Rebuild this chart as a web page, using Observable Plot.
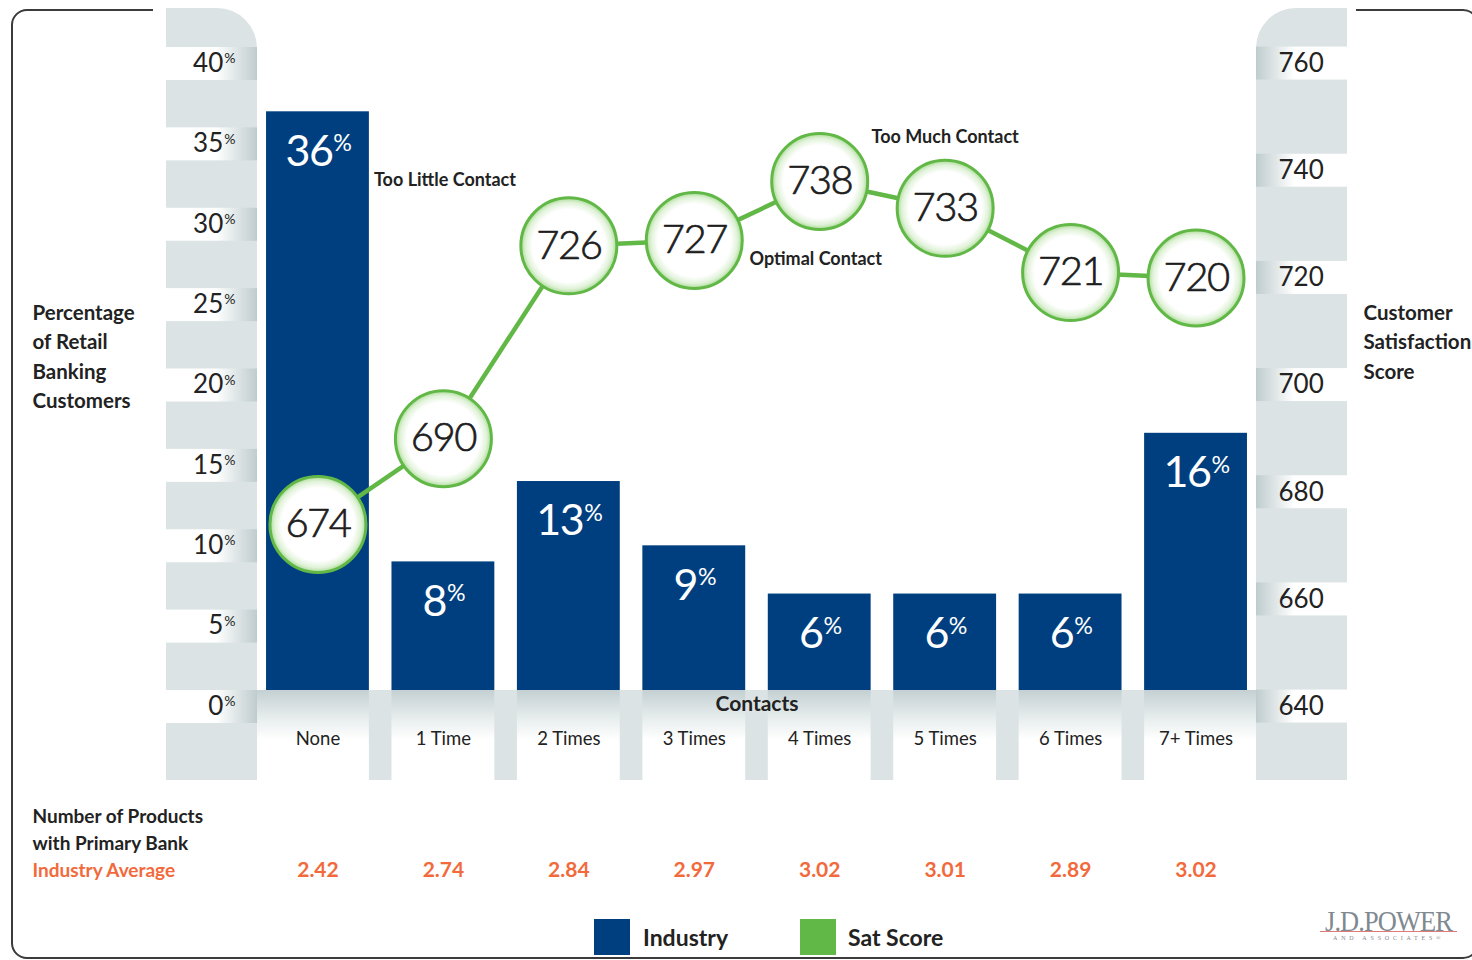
<!DOCTYPE html>
<html>
<head>
<meta charset="utf-8">
<script src="https://cdn.jsdelivr.net/npm/d3@7"></script>
<script src="https://cdn.jsdelivr.net/npm/@observablehq/plot@0.6"></script>
<style>
  html, body { margin: 0; padding: 0; background: #fff; }
  #wrap { position: relative; width: 1472px; height: 960px; overflow: hidden; font-family: Lato, "Open Sans", sans-serif; color: #222; }
  #border { position: absolute; left: 11px; top: 9px; width: 1468px; height: 950px; box-sizing: border-box; border: 2px solid #3b3b3b; border-radius: 16px; z-index: 1; }
  #mask { position: absolute; left: 153px; top: 5px; width: 1203px; height: 10px; background: #fff; z-index: 2; }
  #chart { position: relative; z-index: 3; height: 900px; }
  #legend { position: relative; z-index: 3; height: 60px; }
  .sw { position: absolute; top: 19px; width: 36px; height: 36px; }
  .lt { position: absolute; top: 22px; font-weight: bold; font-size: 23px; line-height: 30px; color: #222; }
  #logo { position: absolute; left: 1320px; top: 0; width: 145px; height: 56px; color: #7f898f; }
  #logo .name { position: absolute; left: 5px; top: 6px; font-family: "Liberation Serif", "DejaVu Serif", serif; font-size: 30px; line-height: 30px; letter-spacing: -1px; transform: scaleX(0.88); transform-origin: left top; white-space: nowrap; }
  #logo .rule { position: absolute; left: 0; top: 31px; width: 137px; height: 1px; background: #e07b7b; }
  #logo .sub { position: absolute; left: 13px; top: 35px; font-family: "Liberation Serif", serif; font-size: 6px; line-height: 6px; letter-spacing: 3.8px; white-space: nowrap; }
</style>
</head>
<body>
<div id="wrap">
  <div id="border"></div>
  <div id="mask"></div>
  <div id="chart"></div>
  <div id="legend">
    <div class="sw" style="left:594px;background:#003f7f"></div>
    <div class="lt" style="left:643px">Industry</div>
    <div class="sw" style="left:800px;background:#62b846"></div>
    <div class="lt" style="left:848px">Sat Score</div>
    <div id="logo">
      <div class="name">J.D.POWER</div>
      <div class="rule"></div>
      <div class="sub">AND ASSOCIATES®</div>
    </div>
  </div>
</div>
<script>
// ---- data ----
const categories = ["None", "1 Time", "2 Times", "3 Times", "4 Times", "5 Times", "6 Times", "7+ Times"];
const industryPct = [36, 8, 13, 9, 6, 6, 6, 16];
const satScore = [674, 690, 726, 727, 738, 733, 721, 720];
const productsAvg = ["2.42", "2.74", "2.84", "2.97", "3.02", "3.01", "2.89", "3.02"];
const pctTicks = [0, 5, 10, 15, 20, 25, 30, 35, 40];
const scoreTicks = [640, 660, 680, 700, 720, 740, 760];
const scoreDomain = [640, 760];
const scoreOnPctAxis = [-1, 39]; // secondary (score) axis expressed on the percentage axis

const NAVY = "#003f7f", GREEN = "#62b846", ORANGE = "#f26a3c", PANEL = "#dbe3e4";
const PAD_INNER = 0.18, PAD_OUTER = 0.072;

const toPct = d3.scaleLinear().domain(scoreDomain).range(scoreOnPctAxis);

const data = categories.map((c, i) => ({
  contact: c, industry: industryPct[i], score: satScore[i], products: productsAvg[i]
}));

// decorative panels behind the chart (axis columns, bands, strip)
function decor(index, scales, values, dims) {
  const {width, marginLeft: ml, marginRight: mr} = dims;
  const y = scales.y, x = scales.x;
  const y0 = y(0), yTop = y(40) - 39, yBot = y0 + 90, bandH = 33, pw = 91, rad = 40;
  const step = x(categories[1]) - x(categories[0]);
  const bw = step * (1 - PAD_INNER);
  const xr = width - mr;
  const firstBar = x(categories[0]);
  const lastBarEnd = x(categories[categories.length - 1]) + bw;
  const g = d3.create("svg:g");
  const defs = g.append("defs");
  const lin = (id, x2, y2, stops) => {
    const gr = defs.append("linearGradient").attr("id", id).attr("x1", 0).attr("y1", 0).attr("x2", x2).attr("y2", y2);
    stops.forEach(([o, c]) => gr.append("stop").attr("offset", o).attr("stop-color", c));
  };
  lin("bandL", 1, 0, [[0, "#fff"], [0.55, "#fff"], [1, "#bfccce"]]);
  lin("bandR", 1, 0, [[0, "#bfccce"], [0.42, "#fff"], [1, "#fff"]]);
  lin("strip", 0, 1, [[0, "#c4d0d3"], [0.3, "#e6ecec"], [0.55, "#fff"], [1, "#fff"]]);
  const rg = defs.append("radialGradient").attr("id", "ringFill");
  [[0, "#fff"], [0.76, "#fff"], [0.9, "#e0f2d8"], [1, "#a9dc95"]]
    .forEach(([o, c]) => rg.append("stop").attr("offset", o).attr("stop-color", c));

  // left panel
  g.append("path").attr("fill", PANEL)
    .attr("d", `M${ml - pw},${yBot}V${yTop}H${ml - rad}A${rad},${rad} 0 0 1 ${ml},${yTop + rad}V${y0 + bandH}H${firstBar}V${yBot}Z`);
  // right panel
  g.append("path").attr("fill", PANEL)
    .attr("d", `M${xr + pw},${yTop}V${yBot}H${lastBarEnd}V${y0 + bandH}H${xr}V${yTop + rad}A${rad},${rad} 0 0 1 ${xr + rad},${yTop}Z`);
  // strip under the bars
  g.append("rect").attr("x", ml).attr("y", y0).attr("width", xr - ml).attr("height", yBot - y0).attr("fill", "url(#strip)");
  for (let i = 0; i < categories.length - 1; i++) {
    const a = x(categories[i]) + bw, b = x(categories[i + 1]);
    g.append("rect").attr("x", a).attr("y", y0).attr("width", b - a).attr("height", yBot - y0).attr("fill", PANEL);
  }
  // white bands for ticks
  pctTicks.forEach(t => g.append("rect").attr("x", ml - pw).attr("y", y(t)).attr("width", pw).attr("height", bandH).attr("fill", "url(#bandL)"));
  scoreTicks.forEach(s => g.append("rect").attr("x", xr).attr("y", y(toPct(s)) - bandH / 2).attr("width", pw).attr("height", bandH).attr("fill", "url(#bandR)"));
  return g.node();
}

const bold = {fontWeight: "bold", fill: "#222"};

const plot = Plot.plot({
  width: 1472,
  height: 900,
  marginLeft: 257,
  marginRight: 216,
  marginTop: 47,
  marginBottom: 210,
  style: {background: "transparent", fontFamily: "Lato, 'Open Sans', sans-serif", color: "#222", overflow: "visible"},
  x: {type: "band", domain: categories, paddingInner: PAD_INNER, paddingOuter: PAD_OUTER, round: false, label: null},
  y: {domain: [0, 40], label: null},
  marks: [
    decor,
    Plot.barY(data, {x: "contact", y: "industry", fill: NAVY}),
    Plot.line(data, {x: "contact", y: d => toPct(d.score), stroke: GREEN, strokeWidth: 4.5}),
    Plot.dot(data, {x: "contact", y: d => toPct(d.score), r: 48, fill: "url(#ringFill)", stroke: GREEN, strokeWidth: 3}),
    Plot.text(data, {x: "contact", y: d => toPct(d.score), text: d => String(d.score), fontSize: 40, fontWeight: 300, fill: "#1d1d1d", stroke: "#1d1d1d", strokeWidth: 0.7, ariaDescription: "score-labels"}),
    Plot.text(data, {x: "contact", y: "industry", text: d => d.industry + "%", dy: 40, fontSize: 43, fontWeight: 400, fill: "white", ariaDescription: "pct-labels"}),
    // annotations
    Plot.text(data.filter(d => d.contact === "None"), {x: "contact", y: "industry", text: () => "Too Little Contact", dx: 56, dy: 68, textAnchor: "start", fontSize: 18, ...bold}),
    Plot.text(data.filter(d => d.contact === "4 Times"), {x: "contact", y: d => toPct(d.score), text: () => "Optimal Contact", dx: -4, dy: 78, fontSize: 18, ...bold}),
    Plot.text(data.filter(d => d.contact === "5 Times"), {x: "contact", y: d => toPct(d.score), text: () => "Too Much Contact", dy: -71, fontSize: 18, ...bold}),
    // axes
    Plot.axisY({ticks: pctTicks, tickSize: 0, tickPadding: 22, dy: 16, tickFormat: d => d + "%", fontSize: 26, label: null}),
    Plot.axisY({anchor: "right", ticks: scoreTicks.map(toPct), tickSize: 0, tickPadding: 22, tickFormat: v => String(Math.round(toPct.invert(v))), fontSize: 26, label: null}),
    Plot.axisX({tickSize: 0, tickPadding: 41, fontSize: 18.5, label: null}),
    Plot.text(["Contacts"], {frameAnchor: "bottom", lineAnchor: "middle", text: d => d, dy: 14, fontSize: 21, ...bold}),
    // side titles
    Plot.text(["Percentage\nof Retail\nBanking\nCustomers"], {frameAnchor: "left", lineAnchor: "middle", text: d => d, dx: -225, dy: -14.5, textAnchor: "start", lineHeight: 1.43, fontSize: 20.5, ...bold}),
    Plot.text(["Customer\nSatisfaction\nScore"], {frameAnchor: "right", lineAnchor: "middle", text: d => d, dx: 107, dy: -29, textAnchor: "start", lineHeight: 1.43, fontSize: 20.5, ...bold}),
    // products row
    Plot.text(["Number of Products\nwith Primary Bank"], {frameAnchor: "bottom-left", lineAnchor: "middle", text: d => d, dx: -225, dy: 137.5, textAnchor: "start", lineHeight: 1.42, fontSize: 19, ...bold}),
    Plot.text(["Industry Average"], {frameAnchor: "bottom-left", lineAnchor: "middle", text: d => d, dx: -225, dy: 180, textAnchor: "start", fontSize: 19, fontWeight: "bold", fill: ORANGE}),
    Plot.text(data, {x: "contact", text: "products", frameAnchor: "bottom", lineAnchor: "middle", dy: 180, fontSize: 21, fontWeight: "bold", fill: ORANGE})
  ]
});

document.getElementById("chart").appendChild(plot);

// superscript percent signs
d3.select(plot).selectAll("text").each(function () {
  const m = /^(\d+)%$/.exec(this.textContent);
  if (!m || this.children.length) return;
  const fs = parseFloat(getComputedStyle(this).fontSize);
  const s = fs * 0.54, raise = 0.72 * (fs - s);
  this.textContent = m[1];
  const ts = document.createElementNS("http://www.w3.org/2000/svg", "tspan");
  ts.setAttribute("font-size", s);
  ts.setAttribute("dy", -raise);
  ts.setAttribute("dx", 1);
  ts.textContent = "%";
  this.appendChild(ts);
});
d3.select(plot).selectAll('g[aria-description="score-labels"] text').style("letter-spacing", "-1.5px");
d3.select(plot).selectAll('g[aria-description="pct-labels"] text').style("letter-spacing", "-1.5px");
</script>
</body>
</html>
